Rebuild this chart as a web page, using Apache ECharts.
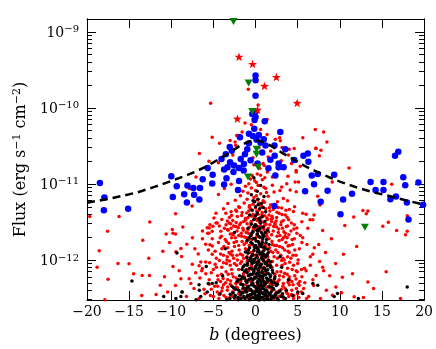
<!DOCTYPE html>
<html><head><meta charset="utf-8">
<script src="https://cdn.jsdelivr.net/npm/echarts@6/dist/echarts.min.js"></script>
<style>html,body{margin:0;padding:0;background:#fff}#c{width:436px;height:349px}</style>
</head><body><div id="c"></div>
<script>
// Galactic latitude b (degrees) and flux in units of 1e-12 erg s^-1 cm^-2
const xTicks = [-20, -15, -10, -5, 0, 5, 10, 15, 20];
const yDecades = [-12, -11, -10, -9];          // log10 flux of labelled ticks
const yRange = [-12.527, -8.832];               // log10 flux at bottom / top of frame

const redDots = [
[-5.33,115],[-5.14,41],[-5.53,19.8],[-0.86,176],[0.31,109],[-1.25,63],[1.37,70],[7.09,52],[8.08,48],[8.47,35.6],
[5.61,40.4],[7.18,29.1],[7.76,27.7],[7.57,23.4],[11.1,16.2],[-4.27,34.1],[-2.24,43.3],[-3.02,37.3],[1.37,44.6],[2.86,40.4],
[3.45,28.5],[4.27,18.6],[4.82,15.0],[3.06,20.2],[1.02,17.4],[-2.43,35.6],[-1.96,43.3],[2.35,38.5],[2.94,36.8],[3.14,30],
[4.0,28.5],[4.59,29.1],[-6.67,25.1],[-2.35,32.1],[7.14,29.4],[-0.5,60],[0.6,52],[-1.6,48],[1.8,27],[-2.7,24],
[0.4,30],[-0.3,22],[1.5,22.5],[3.9,24],[-4.4,19],[5.3,17],[-1.1,26],
[9.1,10.6],[7.38,6.9],[7.65,5.28],[16.16,9.9],[12.74,4.46],[13.14,4.04],[13.33,4.4],[11.65,3.66],[10.59,2.83],
[15.1,2.77],[15.76,3.12],[16.74,2.44],[18.0,3.81],[18.0,2.39],[17.8,2.15],[7.96,2.44],[6.0,4.0],[6.47,3.38],[6.94,3.9],
[10.43,1.19],[11.5,0.657],[10.3,0.594],[13.33,0.512],[11.7,0.327],[12.8,0.32],[6.98,1.45],[6.79,1.19],[7.96,0.8],[8.08,0.72],
[9.14,0.344],[7.18,0.625],[9.53,0.44],[6.0,0.72],[5.2,0.463],[4.82,0.72],[4.04,0.93],[3.85,1.53],[5.6,1.95],[6.79,3.38],
[5.6,4.12],[4.63,5.02],[4.82,7.85],[4.82,14.3],[3.85,12.6],
[-7.06,12.3],[-7.85,8.67],[-7.53,5.13],[-9.49,4.04],[-12.55,3.15],[-16.2,3.73],[-19.68,3.73],[-17.56,2.39],[-10.6,2.2],[-9.88,2.51],
[-9.8,2.25],[-9.49,2.2],[-8.63,2.71],[-13.38,1.81],[-7.49,1.95],[-8.15,1.61],[-8.86,1.41],[-8.78,1.11],[-9.45,1.28],[-18.55,1.32],
[-12.67,1.05],[-16.32,0.90],[-15.02,0.89],[-14.47,0.657],[-13.45,0.625],[-12.59,0.625],[-17.5,0.555],[-11.3,0.463],[-11.8,0.351],[-10.43,0.38],
[-17.88,0.30],[-9.06,0.72],[-8.86,0.566],[-7.88,0.566],[-7.68,0.488],[-8.67,0.38],[-6.39,0.72],[-6.31,0.77],[-6.7,0.84],[-6.5,0.94],
[-5.92,0.94],[-5.45,0.92],[-5.14,1.19],[-5.14,1.53],[-5.41,1.58],[-5.92,1.61],[-5.14,1.9],[-5.41,2.91],[-5.73,2.64],[-5.06,2.78],
[-4.55,3.05],[-5.14,2.39],[-4.94,3.55],[-5.53,2.25],[-6.12,0.41],[-6.7,0.31],
[-0.4,12.9],[0.2,13.5],[0.8,11.3],[1.4,14.3],[2.0,12.3],[-0.8,10.0],[-0.6,11.6],[0.5,16.0],[0.9,18.5],[-0.2,17.8],
[3.7,10.0],[4.7,10.6],[5.1,10.6],[-2.9,9.9],[0.1,10.4],[1.1,12.0],[-1.3,14.8],[2.6,16.5],[0.6,13.0],[-0.1,11.0],
[-4.4,7.25],[1.2,8.7],[3.1,9.1],[3.3,6.4],[-3.3,5.5],[0.3,9.5],[0.0,8.2],[0.6,7.4],[-0.5,8.8],[1.5,6.9],
[-1.0,6.3],[0.9,6.0],[-0.2,6.6],[2.2,7.8],[-1.8,7.0],[0.4,5.6],[1.8,5.3],[-0.7,5.2],[2.6,5.8],[-2.4,6.1],
[0.1,7.0],[1.0,9.0],[-1.2,9.3],[0.7,5.1],[-0.3,5.4],[2.9,8.2],[-2.0,5.0],[3.8,6.0],[-1.5,8.0],[1.3,7.7],
[0.2,6.2],[-0.9,7.6],[2.0,9.6],[4.1,8.3],[-3.7,8.7],
[-4.7,4.1],[-2.35,4.55],[-3.53,4.1],[-2.16,3.73],[4.5,4.33],[3.53,3.9],[3.92,3.38],[5.49,3.17],[0.0,4.8],[0.4,4.5],
[0.8,4.2],[-0.3,4.0],[1.2,4.7],[-0.8,4.4],[1.6,3.9],[-1.2,3.5],[2.1,4.6],[-1.6,4.2],[2.5,3.6],[0.2,3.3],
[0.6,3.6],[-0.5,3.2],[1.0,3.1],[1.4,3.4],[-1.0,3.0],[2.8,4.1],[-2.7,3.3],[3.1,4.8],[-0.1,3.7],[0.9,4.9],
[-1.9,4.9],[1.9,3.2],[2.3,3.05],[-2.9,4.3],[3.3,3.3],[-3.1,3.6],[0.5,3.1],[-0.6,4.7],[1.7,4.4],[-1.4,3.2],
[2.7,4.9],[4.0,4.6],[-4.0,3.4],[0.3,4.0],[1.1,3.8],[-0.9,3.6],[2.0,3.5],[-2.3,3.1],[3.6,4.5],[-3.8,4.7],
[-3.14,3.05],[-4.7,3.05],[-5.49,2.63],[-4.12,2.39],[-3.33,2.51],[-2.74,2.2],[-5.68,2.25],[4.9,2.63],[4.9,2.25],[3.53,2.25],
[0.0,2.9],[0.3,2.6],[0.6,2.8],[-0.3,2.4],[1.0,2.5],[-0.7,2.7],[1.3,2.2],[-1.1,2.3],[1.7,2.9],[-1.5,2.6],
[2.1,2.4],[-1.9,2.9],[2.5,2.7],[-2.2,2.4],[2.9,2.1],[-2.6,2.8],[3.2,2.6],[-3.0,2.2],[3.8,2.8],[-3.7,2.6],
[4.2,2.4],[-4.3,2.8],[0.8,2.1],[-0.5,2.1],[1.5,2.6],[-1.3,2.0],[2.3,2.95],[-2.0,2.1],[2.7,2.3],[0.2,2.2],
[1.1,2.85],[-0.9,2.5],[3.5,2.05],[-3.5,2.9],[4.6,2.9],[0.5,2.45],[1.9,2.15],[-1.7,2.25],[-0.1,2.65],[5.3,2.1],
[6.2,2.6],[-6.3,2.4],[3.0,2.9],[-2.9,2.6],
[0.0,1.9],[0.4,1.7],[0.8,1.8],[-0.4,1.6],[1.2,1.5],[-0.8,1.85],[1.6,1.9],[-1.2,1.4],[2.0,1.6],[-1.6,1.75],
[2.4,1.35],[-2.0,1.55],[2.8,1.8],[-2.4,1.95],[3.2,1.45],[-2.8,1.3],[3.6,1.7],[-3.2,1.65],[4.0,1.25],[-3.6,1.85],
[4.4,1.6],[-4.0,1.4],[4.8,1.15],[-4.4,1.7],[5.2,1.4],[-4.8,1.3],[0.2,1.3],[0.6,1.2],[-0.2,1.15],[1.0,1.05],
[-0.6,1.25],[1.4,1.2],[-1.0,1.1],[1.8,1.3],[-1.4,1.05],[2.2,1.1],[-1.8,1.2],[2.6,1.05],[-2.2,1.15],[3.0,1.15],
[-2.6,1.05],[3.4,1.0],[-3.0,1.2],[3.8,1.1],[-3.4,1.0],[4.2,1.05],[-3.8,1.15],[4.6,1.9],[-4.2,1.95],[5.5,1.7],
[-5.6,1.35],[6.1,1.6],[-6.3,1.9],[6.5,1.1],[-6.8,1.2],[7.5,1.6],[-7.2,1.4],[8.3,1.25],[-10.2,1.7],[9.0,1.9],
[-11.0,1.3],[12.0,1.5],[1.1,1.6],[-1.1,1.7],[2.5,1.55],[-2.5,1.5],[0.9,1.45],[-0.9,1.35],[1.5,1.0],[3.3,1.95],[-3.3,1.45],
[0.0,0.95],[0.5,0.9],[-0.5,0.85],[1.0,0.8],[-1.0,0.95],[1.5,0.9],[-1.5,0.8],[2.0,0.95],[-2.0,0.75],[2.5,0.85],
[-2.5,0.9],[3.0,0.7],[-3.0,0.85],[3.5,0.9],[-3.5,0.7],[4.0,0.6],[-4.0,0.8],[4.5,0.85],[-4.5,0.62],[5.0,0.9],
[-5.0,0.75],[5.5,0.6],[-5.5,0.55],[6.5,0.85],[-7.1,0.68],[0.3,0.7],[-0.3,0.65],[0.8,0.6],[-0.8,0.72],[1.3,0.68],
[-1.3,0.6],[1.8,0.62],[-1.8,0.9],[2.3,0.65],[-2.3,0.58],[2.8,0.55],[-2.8,0.66],[3.3,0.6],[-3.3,0.55],[3.8,0.78],
[-3.8,0.92],[4.3,0.52],[-4.3,0.98],[4.8,0.56],[-4.8,0.88],[5.8,0.78],[-5.9,0.66],[6.8,0.55],[-6.6,0.58],[7.6,0.95],
[-7.5,0.88],[8.8,0.62],[-9.8,0.82],[1.1,0.52],[-1.1,0.54],[2.1,0.53],[-2.1,0.51],[3.1,0.98],[-3.1,0.97],[0.6,0.58],
[-0.6,0.56],[9.5,0.9],[-10.8,0.6],[15.5,0.7],[-18.8,0.8],
[0.0,0.45],[0.5,0.4],[-0.5,0.35],[1.0,0.48],[-1.0,0.42],[1.5,0.33],[-1.5,0.47],[2.0,0.4],[-2.0,0.36],[2.5,0.46],
[-2.5,0.41],[3.0,0.34],[-3.0,0.48],[3.5,0.42],[-3.5,0.32],[4.0,0.47],[-4.0,0.39],[4.5,0.31],[-4.5,0.45],[5.0,0.36],
[-5.0,0.33],[5.7,0.42],[-5.5,0.48],[6.3,0.33],[-6.0,0.36],[6.9,0.46],[-7.3,0.42],[7.7,0.31],[-8.2,0.33],[8.4,0.4],
[-9.5,0.46],[10.2,0.37],[0.3,0.32],[-0.3,0.49],[0.8,0.37],[-0.8,0.31],[1.3,0.44],[-1.3,0.38],[1.8,0.49],[-1.8,0.32],
[2.3,0.35],[-2.3,0.44],[2.8,0.39],[-2.8,0.34],[3.3,0.49],[-3.3,0.44],[3.8,0.36],[-3.8,0.47],[4.3,0.4],[-4.3,0.35],
[14.0,0.42],[-13.5,0.34],[17.2,0.31]
];

// extra red sources filling the dense fan around b = 0
const redCore = [
[-0.15,5.9],[0.45,5.3],[1.05,5.75],[-0.75,4.95],[1.65,4.85],[-1.35,5.6],[2.25,5.05],[0.15,4.35],[0.75,3.95],[-0.45,3.75],
[1.35,3.55],[-1.05,4.15],[1.95,3.75],[-1.65,3.85],[2.55,4.25],[-2.25,4.35],[3.15,3.95],[-2.85,3.85],[3.75,3.65],[0.05,3.45],
[0.65,3.25],[-0.55,3.05],[1.25,2.95],[-1.15,3.35],[1.85,3.45],[-1.75,3.05],[2.45,3.25],[-2.35,2.75],[3.05,3.15],[-2.95,3.0],
[3.65,2.75],[-3.35,3.25],[4.25,3.05],[0.35,2.75],[0.95,2.65],[-0.25,2.55],[1.55,2.35],[-0.85,2.25],[2.15,2.75],[-1.45,2.45],
[2.75,2.55],[-2.05,2.65],[3.35,2.35],[-2.65,2.15],[3.95,2.15],[-3.25,2.45],[4.55,2.55],[0.15,2.05],[0.75,1.95],[-0.45,1.85],
[1.35,2.05],[-1.05,1.95],[1.95,1.75],[-1.65,2.05],[2.55,2.05],[-2.25,1.75],[3.15,1.85],[-2.85,1.95],[3.75,1.95],[-3.45,1.75],
[4.35,1.85],[-4.05,2.05],[0.45,1.55],[1.05,1.35],[-0.15,1.45],[1.65,1.45],[-0.75,1.55],[2.25,1.55],[-1.35,1.6],[2.85,1.5],
[-1.95,1.35],[3.45,1.35],[-2.55,1.7],[4.05,1.55],[-3.15,1.25],[4.65,1.35],[-3.75,1.5],[0.25,1.1],[0.85,1.0],[-0.35,1.25],
[1.45,1.1],[-0.95,1.0],[2.05,1.25],[-1.55,1.15],[2.65,1.25],[-2.15,1.0],[3.25,1.05],[-2.75,1.15],[3.85,1.3],[-3.35,1.1],
[4.45,1.15],[-4.15,1.2],[5.05,1.0],[-4.65,1.05],
[0.15,0.85],[0.75,0.75],[-0.45,0.8],[1.35,0.95],[-1.05,0.75],[1.95,0.8],[-1.65,0.95],[2.55,0.7],[-2.25,0.85],[3.15,0.85],
[-2.85,0.75],[3.75,0.65],[-3.45,0.9],[4.35,0.75],[-4.05,0.65],[4.95,0.7],[-4.65,0.8],[5.45,0.75],[-5.25,0.68],[0.45,0.62],
[1.05,0.66],[-0.15,0.57],[1.65,0.55],[-0.75,0.63],[2.25,0.57],[-1.45,0.66],[2.85,0.62],[-2.05,0.55],[3.45,0.67],[-2.65,0.6],
[4.05,0.55],[-3.25,0.65],[4.65,0.62],[-3.85,0.57],[5.25,0.52],[-4.45,0.55],[0.25,0.5],[0.85,0.46],[-0.55,0.52],[1.45,0.51],
[-1.15,0.47],[2.05,0.47],[-1.75,0.52],[2.65,0.52],[-2.35,0.49],[3.25,0.45],[-2.95,0.53],[3.85,0.51],[-3.55,0.5],[4.45,0.47],
[-4.15,0.52],[5.05,0.49],[-4.85,0.45],[5.85,0.5],[0.05,0.4],[0.65,0.43],[-0.35,0.38],[1.25,0.36],[-0.95,0.4],[1.85,0.42],
[-1.55,0.41],[2.45,0.38],[-2.15,0.43],[3.05,0.41],[-2.75,0.38],[3.65,0.38],[-3.35,0.4],[4.25,0.35],[-3.95,0.43],[4.85,0.42],
[-4.55,0.38],[5.45,0.38],[-5.25,0.41],[0.35,0.34],[0.95,0.31],[-0.65,0.33],[1.55,0.35],[-1.25,0.31],[2.15,0.31],[-1.85,0.35],
[2.75,0.33],[-2.45,0.31],[3.35,0.31],[-3.05,0.32],[3.95,0.33],[-3.75,0.34],[4.55,0.34],[-4.35,0.31],[5.15,0.32],[-5.35,0.34],[6.05,0.31]
];

const blackDots = [
[-0.2,12.0],[0.6,9.5],[0.2,8.0],[-0.5,7.2],[1.0,6.8],[0.3,6.3],[-0.1,5.8],[0.7,5.5],[0.0,5.0],[0.5,4.7],
[-0.4,4.5],[1.2,4.3],[0.2,4.1],[-0.7,3.9],[0.8,3.7],[0.4,3.5],[-0.2,3.4],[1.1,3.2],[0.6,3.05],[-0.5,2.95],
[0.1,2.8],[0.9,2.7],[-0.9,2.6],[0.4,2.55],[1.4,2.45],[-0.3,2.35],[0.7,2.3],[0.2,2.2],[-0.6,2.1],[1.0,2.05],
[0.5,1.98],[-0.1,1.92],[1.3,1.85],[-1.0,1.8],[0.3,1.75],[0.8,1.7],[-0.4,1.65],[1.6,1.6],[0.0,1.55],[0.6,1.5],
[-0.7,1.45],[1.1,1.42],[0.3,1.38],[-0.2,1.33],[0.9,1.3],[-1.2,1.27],[1.5,1.24],[0.5,1.2],[0.1,1.16],[-0.5,1.12],
[1.2,1.09],[0.7,1.06],[-0.1,1.03],[0.4,1.0],[-0.8,0.98],[1.0,0.96],[1.8,0.94],[0.2,0.92],[-0.4,0.9],[0.7,0.88],
[-1.3,0.86],[1.4,0.84],[0.0,0.82],[0.5,0.8],[-0.7,0.78],[1.1,0.77],[-1.6,0.75],[0.3,0.74],[2.0,0.73],[-0.2,0.71],
[0.8,0.7],[-1.0,0.68],[1.5,0.67],[0.1,0.66],[-0.5,0.64],[1.0,0.63],[-1.9,0.62],[0.6,0.61],[2.3,0.6],[-0.1,0.59],
[1.3,0.58],[-1.3,0.57],[0.4,0.56],[-0.8,0.55],[1.8,0.54],[0.9,0.53],[-2.2,0.52],[0.2,0.51],[-0.4,0.5],[1.2,0.49],
[2.6,0.48],[-1.5,0.47],[0.7,0.46],[-0.2,0.455],[1.6,0.45],[-0.9,0.44],[0.3,0.435],[-2.6,0.43],[2.1,0.42],[1.0,0.415],
[-0.6,0.41],[0.5,0.4],[-1.2,0.395],[2.9,0.39],[0.0,0.385],[1.4,0.38],[-1.8,0.375],[0.8,0.37],[-0.3,0.365],[2.4,0.36],
[-3.0,0.355],[1.1,0.35],[-0.7,0.345],[0.4,0.34],[1.9,0.335],[-1.4,0.33],[3.3,0.325],[-2.1,0.32],[0.7,0.315],[-0.1,0.31],
[1.5,0.305],[-3.4,0.3],[2.7,0.3],
[0.0,1.45],[0.4,1.3],[0.8,1.12],[-0.3,1.0],[0.2,0.87],[0.6,0.83],[-0.1,0.76],[1.2,0.72],[0.4,0.69],[-0.6,0.65],
[0.9,0.62],[0.1,0.6],[1.4,0.56],[-0.3,0.55],[0.6,0.53],[-1.0,0.51],[1.1,0.5],[0.3,0.48],[-0.5,0.47],[0.9,0.45],
[1.9,0.44],[0.1,0.43],[-1.1,0.42],[0.6,0.41],[1.3,0.4],[-0.4,0.39],[0.2,0.38],[-1.5,0.37],[1.7,0.36],[0.5,0.355],
[-0.5,0.35],[1.2,0.34],[0.0,0.335],[-1.0,0.33],[0.9,0.325],[2.2,0.32],[0.3,0.318],[-0.6,0.31],[1.2,0.305],[0.5,0.3],
[-1.7,0.31],[2.0,0.33],[-2.4,0.34],[2.6,0.37],[-2.0,0.4],[3.2,0.36],[-2.8,0.45],[2.3,0.5],[-1.7,0.56],[1.7,0.64],
[-1.3,0.7],[1.8,0.8],[-1.0,0.85],[1.3,0.92],[-0.6,1.05],[1.0,1.18],[-0.9,1.22],[0.2,1.45],[0.7,1.6],[-0.3,1.9],
[0.9,2.15],[0.3,2.4],[-0.2,2.7],[0.5,3.3],[0.0,3.8],[0.9,4.9],[0.3,5.3],[-0.3,6.0],
[-9.33,1.23],[-14.67,0.527],[-5.85,0.817],[-6.7,0.47],[-5.61,0.488],[-5.14,0.488],[-4.67,0.5],[-8.86,0.33],[-6.5,0.33],[-5.73,0.38],
[-9.45,0.31],[-8.74,0.38],[-6.67,0.40],[-7.06,0.30],[18.0,0.44],[9.33,0.33],[9.73,0.362],[6.8,0.488],[7.38,0.463],[5.6,0.362],
[5.02,0.38],[3.65,0.40],[-3.9,0.62],[3.9,0.55],[4.4,0.34],[-4.2,0.36],[-10.9,0.33],[12.2,0.31],[-3.6,1.4],[2.9,1.1],
[-2.5,2.3],[3.1,0.8],
[-0.05,2.9],[0.55,2.6],[0.15,2.45],[-0.45,2.25],[1.15,2.3],[0.35,2.05],[-0.75,1.95],[0.85,1.9],[0.05,1.78],[1.25,1.68],
[-0.55,1.7],[0.45,1.62],[-0.15,1.52],[0.95,1.48],[1.45,1.38],[-0.85,1.35],[0.25,1.28],[0.65,1.22],[-0.35,1.18],[1.35,1.15],
[-1.05,1.08],[0.15,1.08],[0.85,1.02],[-0.55,0.96],[1.55,0.99],[0.35,0.95],[-0.15,0.93],[1.15,0.9],[-0.95,0.9],[0.55,0.86],
[1.75,0.85],[-1.45,0.82],[0.05,0.79],[0.95,0.78],[-0.45,0.76],[1.45,0.74],[0.35,0.72],[-1.15,0.73],[0.75,0.68],[2.05,0.68],
[-0.25,0.67],[1.25,0.65],[-0.85,0.62],[0.45,0.63],[1.75,0.6],[-1.55,0.6],[0.05,0.58],[0.85,0.57],[-0.55,0.57],[2.25,0.56],
[1.45,0.53],[-1.15,0.53],[0.25,0.52],[-2.05,0.55],[0.65,0.5],[1.95,0.5],[-0.35,0.49],[1.05,0.47],[-1.75,0.48],[0.35,0.45],
[2.45,0.46],[-0.85,0.45],[1.55,0.44],[-0.05,0.44],[0.75,0.42],[-1.45,0.43],[2.15,0.41],[-2.35,0.41],[0.15,0.4],[1.15,0.39],
[-0.65,0.4],[1.85,0.38],[-1.05,0.38],[0.45,0.37],[2.75,0.38],[-2.65,0.37],[0.95,0.36],[-0.25,0.36],[1.65,0.35],[-1.75,0.35],
[0.25,0.34],[2.35,0.34],[-0.95,0.34],[1.35,0.33],[-2.55,0.32],[0.65,0.32],[3.05,0.33],[-0.35,0.32],[1.85,0.31],[-1.25,0.31],
[0.05,0.31],[2.55,0.31],[-2.05,0.3],[1.05,0.3],[-3.05,0.31],[3.55,0.31],[-0.75,0.3],[0.35,0.3]
];

const blueSources = [
[0,267],[0,230],[0,144],[-0.39,83],[0,89.5],[0,75.5],[-0.12,69],[1.09,66.5],[-0.15,53],[-0.79,45.5],
[-0.32,42.5],[0.39,44],[2.94,48],[-1.85,41],[0.12,38],[0.98,38.5],[-0.79,34.3],[0.59,34.8],[1.18,32],[2.24,32],
[-3.06,30.6],[-2.82,27.2],[-3.53,24.6],[-1.26,24.6],[-0.98,28.5],[0.79,25.9],[2.27,23.4],[3.53,28.5],[4.59,20.6],[5.68,23.4],
[6.2,25.1],[6.27,19.6],[-4.04,21.2],[-3.02,19.2],[-1.76,21.2],[1.76,20.8],[2.74,18.6],[-5.68,16.2],[-3.73,15.5],[-3.33,16.6],
[-1.96,16.2],[-5.09,13.2],[-6.27,11.5],[-3.73,9.8],[-1.96,10.9],[-3.45,11.9],[-6.59,8.85],[-2.08,8.3],[-6.67,6.25],[2.35,12.9],
[2.74,16.6],[3.33,16.6],[2.24,5.1],[5.88,8.0],[1.53,16.1],[-1.41,15.0],[-18.47,10.3],[-17.94,6.6],[-18.0,4.5],[-15.12,4.7],
[-10.0,12.6],[-9.82,6.7],[-9.35,9.3],[-8.47,7.3],[-8.15,5.7],[-8.08,9.5],[-7.38,8.85],[-7.29,7.2],[-5.14,10.1],[6.67,12.9],
[7.38,13.5],[6.94,9.9],[9.33,13.2],[8.55,8.1],[7.73,5.8],[10.39,6.25],[10.08,4.0],[11.45,7.4],[13.65,10.6],[15.18,10.6],
[15.18,8.3],[14.24,8.3],[17.53,12.2],[17.76,9.6],[16.67,6.8],[16.0,6.3],[17.96,5.7],[19.33,10.4],[19.88,5.3],[18.15,3.4],
[16.55,23.4],[16.94,26.4],[-2.62,14.3],[-1.38,18.2],[0.24,18.6],[-0.59,20.4],[-2.55,17.4]
];

const redStars = [[-1.96,469],[-0.35,377],[2.47,254],[1.06,194],[4.94,116],[-2.16,72],[0.24,94]];

const greenTriangles = [[-2.62,1370],[-0.82,212],[-0.39,89.5],[0.12,28.5],[0.12,24.5],[0.3,16.6],[-0.9,12.3],[12.98,2.69]];

const modelCurve = [
[-20,5.66],[-18,6.19],[-16,6.87],[-14,7.74],[-12,9.12],[-10,10.9],[-8,13.2],[-7,14.7],[-6,16.6],[-5,19.2],
[-4,22.3],[-3,26.2],[-2,30.9],[-1,35.3],[0,37.5],[1,35.3],[2,30.9],[3,26.2],[4,22.6],[5,19.5],
[6,16.8],[7,14.9],[8,13.2],[10,10.7],[12,8.98],[14,7.74],[16,6.87],[18,6.01],[20,5.33]
];

// minor tick positions (log10 of k x 10^n)
const yMinor = [];
for (let n = -13; n <= -9; n++) for (let k = 2; k <= 9; k++) {
  const v = Math.log10(k) + n;
  if (v > yRange[0] && v < yRange[1]) yMinor.push(v);
}

const toLog = d => [d[0], Math.log10(d[1]) - 12];
const FONT = 'DejaVu Serif';
const minus = s => String(s).replace('-', '\u2212');

const yCommon = {
  type: 'value', min: yRange[0], max: yRange[1], gridIndex: 0,
  splitLine: { show: false },
  axisLine: { show: true, onZero: false, lineStyle: { color: '#000', width: 1 } }
};
const xCommon = {
  type: 'value', min: -20, max: 20, interval: 5, gridIndex: 0,
  splitLine: { show: false },
  axisLine: { show: true, onZero: false, lineStyle: { color: '#000', width: 1 } },
  axisTick: { inside: true, length: 9, lineStyle: { color: '#000', width: 1 } }
};

const starPath = 'path://M0,-10L2.35,-3.24L9.51,-3.09L3.8,1.24L5.88,8.09L0,4L-5.88,8.09L-3.8,1.24L-9.51,-3.09L-2.35,-3.24Z';

const chart = echarts.init(document.getElementById('c'), null, { renderer: 'canvas' });
chart.setOption({
  animation: false,
  backgroundColor: '#fff',
  grid: { left: 87, right: 9, top: 19, bottom: 44, show: false },
  xAxis: [
    Object.assign({}, xCommon, {
      position: 'bottom',
      axisLabel: { color: '#000', fontFamily: FONT, fontSize: 14, margin: 5,
        formatter: v => minus(v), customValues: xTicks },
      name: '{i|b}{n| (degrees)}', nameLocation: 'middle', nameGap: 28,
      nameTextStyle: { color: '#000', fontFamily: FONT, fontSize: 16,
        rich: { i: { fontFamily: FONT, fontSize: 16, fontStyle: 'italic', color: '#000' },
                n: { fontFamily: FONT, fontSize: 16, color: '#000' } } }
    }),
    Object.assign({}, xCommon, { position: 'top', axisLabel: { show: false } })
  ],
  yAxis: [
    Object.assign({}, yCommon, {
      position: 'left',
      axisTick: { inside: true, length: 9, customValues: yDecades, lineStyle: { color: '#000' } },
      axisLabel: { customValues: yDecades, margin: 8, color: '#000',
        formatter: v => '{b|10}{s|' + minus(Math.round(v)) + '}',
        rich: {
          b: { fontFamily: FONT, fontSize: 14, lineHeight: 14, padding: [3, 0, 0, 0], color: '#000' },
          s: { fontFamily: FONT, fontSize: 10, lineHeight: 10, verticalAlign: 'top', color: '#000' }
        } },
      name: '{m|Flux (erg s}{s|\u22121}{m| cm}{s|\u22122}{m|)}',
      nameLocation: 'middle', nameRotate: 90, nameGap: 50,
      nameTextStyle: { color: '#000', fontFamily: FONT, fontSize: 16,
        rich: {
          m: { fontFamily: FONT, fontSize: 16, lineHeight: 16, padding: [3, 0, 0, 0], color: '#000' },
          s: { fontFamily: FONT, fontSize: 11, lineHeight: 11, verticalAlign: 'top', color: '#000' }
        } }
    }),
    Object.assign({}, yCommon, {
      position: 'left', axisLabel: { show: false },
      axisTick: { inside: true, length: 5, customValues: yMinor, lineStyle: { color: '#000' } }
    }),
    Object.assign({}, yCommon, {
      position: 'right', axisLabel: { show: false },
      axisTick: { inside: true, length: 9, customValues: yDecades, lineStyle: { color: '#000' } }
    }),
    Object.assign({}, yCommon, {
      position: 'right', axisLabel: { show: false },
      axisTick: { inside: true, length: 5, customValues: yMinor, lineStyle: { color: '#000' } }
    })
  ],
  series: [
    { type: 'scatter', data: redDots.map(toLog), symbol: 'circle', symbolSize: 3.5,
      itemStyle: { color: '#ff0000', opacity: 1 }, silent: true, z: 2 },
    { type: 'scatter', data: redCore.map(toLog), symbol: 'circle', symbolSize: 3.5,
      itemStyle: { color: '#ff0000', opacity: 1 }, silent: true, z: 2 },
    { type: 'scatter', data: blackDots.map(toLog), symbol: 'circle', symbolSize: 3.5,
      itemStyle: { color: '#000000', opacity: 1 }, silent: true, z: 3 },
    { type: 'scatter', data: blueSources.map(toLog), symbol: 'circle', symbolSize: 6.5,
      itemStyle: { color: '#0000ff', opacity: 1 }, silent: true, z: 4 },
    { type: 'line', data: modelCurve.map(toLog), showSymbol: false, symbol: 'none',
      lineStyle: { color: '#000', width: 2.5, type: [8, 5] }, silent: true, z: 5 },
    { type: 'scatter', data: redStars.map(toLog), symbol: starPath, symbolKeepAspect: true, symbolSize: 9,
      itemStyle: { color: '#ff0000', opacity: 1 }, silent: true, z: 6 },
    { type: 'scatter', data: greenTriangles.map(toLog), symbol: 'triangle', symbolRotate: 180,
      symbolSize: [8, 7], itemStyle: { color: '#008000', opacity: 1 }, silent: true, z: 7 }
  ]
});
</script></body></html>
